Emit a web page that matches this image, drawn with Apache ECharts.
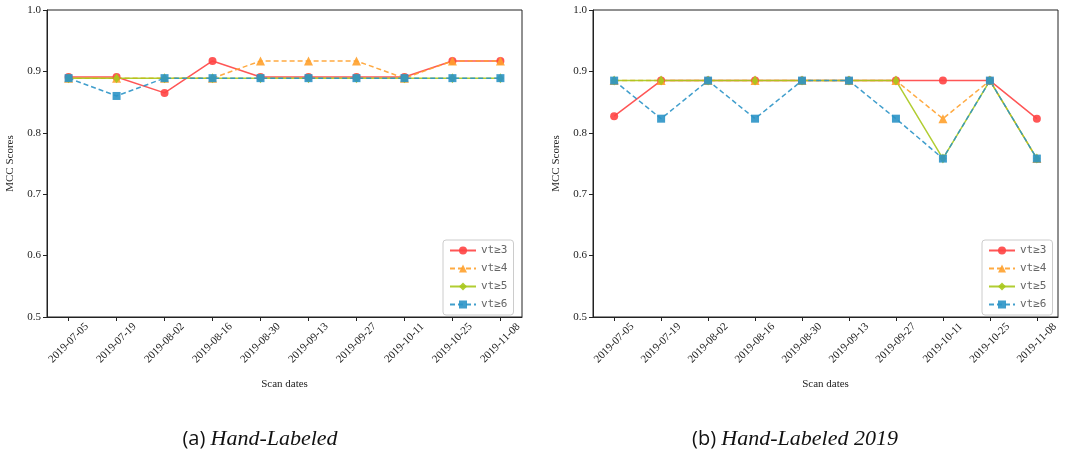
<!DOCTYPE html>
<html>
<head>
<meta charset="utf-8">
<script src="https://cdn.jsdelivr.net/npm/echarts@6/dist/echarts.min.js"></script>
<style>
  html, body { margin: 0; padding: 0; background: #fff; }
  #main { width: 1083px; height: 454px; }
</style>
</head>
<body>
<div id="main"></div>
<script>
// scan dates (x axis)
var dates = ['2019-07-05', '2019-07-19', '2019-08-02', '2019-08-16', '2019-08-30',
             '2019-09-13', '2019-09-27', '2019-10-11', '2019-10-25', '2019-11-08'];
var names = ['vt\u22653', 'vt\u22654', 'vt\u22655', 'vt\u22656'];

// (a) Hand-Labeled
var handVt3 = [0.891, 0.891, 0.865, 0.917, 0.891, 0.891, 0.891, 0.891, 0.917, 0.917];
var handVt4 = [0.889, 0.889, 0.889, 0.889, 0.917, 0.917, 0.917, 0.889, 0.917, 0.917];
var handVt5 = [0.889, 0.889, 0.889, 0.889, 0.889, 0.889, 0.889, 0.889, 0.889, 0.889];
var handVt6 = [0.889, 0.860, 0.889, 0.889, 0.889, 0.889, 0.889, 0.889, 0.889, 0.889];

// (b) Hand-Labeled 2019
var h19Vt3 = [0.827, 0.885, 0.885, 0.885, 0.885, 0.885, 0.885, 0.885, 0.885, 0.823];
var h19Vt4 = [0.885, 0.885, 0.885, 0.885, 0.885, 0.885, 0.885, 0.823, 0.885, 0.758];
var h19Vt5 = [0.885, 0.885, 0.885, 0.885, 0.885, 0.885, 0.885, 0.758, 0.885, 0.758];
var h19Vt6 = [0.885, 0.823, 0.885, 0.823, 0.885, 0.885, 0.823, 0.758, 0.885, 0.758];

var colors = ['#ff4444', '#ffa12e', '#a8c81c', '#2b93c6'];
var symbols = ['circle', 'triangle', 'path://M0,-10 L6,0 L0,10 L-6,0 Z', 'rect'];
var symSizes = [8, 9, [7, 10], 8];
var dashes = ['solid', [5, 3], 'solid', [5, 3]];

var serif = 'Liberation Serif';
var tickIdx = dates.map(function (d, i) { return i; });

function pairs(arr) {
    return arr.map(function (v, i) { return [i, v]; });
}

function makeX(gi) {
    return {
        type: 'value', gridIndex: gi, min: -0.45, max: 9.45,
        name: 'Scan dates', nameLocation: 'middle', nameGap: 62,
        nameTextStyle: { fontFamily: serif, fontSize: 11, color: '#222' },
        axisLine: { show: true, onZero: false, lineStyle: { color: '#222', width: 1 } },
        axisTick: { show: true, length: 4, customValues: tickIdx, lineStyle: { color: '#222' } },
        axisLabel: {
            customValues: tickIdx, rotate: 45, margin: 26,
            align: 'center', verticalAlign: 'middle',
            fontFamily: serif, fontSize: 11, color: '#222',
            formatter: function (v) { return dates[v]; }
        },
        splitLine: { show: false }
    };
}

function makeY(gi) {
    return {
        type: 'value', gridIndex: gi, min: 0.5, max: 1.0, interval: 0.1,
        name: 'MCC Scores', nameLocation: 'middle', nameGap: 31,
        nameTextStyle: { fontFamily: serif, fontSize: 11, color: '#222' },
        axisLine: { show: true, onZero: false, lineStyle: { color: '#222', width: 1 } },
        axisTick: { show: true, length: 4, lineStyle: { color: '#222' } },
        axisLabel: {
            margin: 6, fontFamily: serif, fontSize: 11, color: '#222',
            formatter: function (v) { return v.toFixed(1); }
        },
        splitLine: { show: false }
    };
}

function makeSeries(gi, sets) {
    return sets.map(function (arr, k) {
        return {
            name: names[k], type: 'line', xAxisIndex: gi, yAxisIndex: gi,
            data: pairs(arr),
            symbol: symbols[k], symbolSize: symSizes[k],
            itemStyle: { color: colors[k], opacity: 0.9 },
            lineStyle: { color: colors[k], width: 1.5, type: dashes[k], opacity: 0.9 },
            animation: false
        };
    });
}

function makeLegend(left) {
    return {
        data: names, orient: 'vertical', left: left, top: 240,
        itemWidth: 26, itemHeight: 10, itemGap: 7, padding: [5, 6, 5, 6],
        borderColor: '#ccc', borderWidth: 1, borderRadius: 3,
        backgroundColor: '#fff',
        textStyle: { fontFamily: 'DejaVu Sans Mono', fontSize: 11, color: '#666' },
        selectedMode: false
    };
}

function caption(x, tag, text) {
    return {
        left: x, top: 423, textAlign: 'center',
        text: '{a|' + tag + ' }{b|' + text + '}',
        textStyle: {
            fontWeight: 'normal',
            rich: {
                a: { fontFamily: 'Open Sans', fontWeight: 'normal', fontSize: 20, color: '#111' },
                b: { fontFamily: serif, fontWeight: 'normal', fontStyle: 'italic', fontSize: 22, color: '#111' }
            }
        }
    };
}

var myChart = echarts.init(document.getElementById('main'), null, { renderer: 'canvas' });

var option = {
    backgroundColor: '#fff',
    animation: false,
    title: [caption(255, '(a)', 'Hand-Labeled'), caption(790, '(b)', 'Hand-Labeled 2019')],
    legend: [makeLegend(443), makeLegend(982)],
    grid: [
        { left: 47, top: 10, width: 475, height: 307, show: true, borderColor: '#222', borderWidth: 1 },
        { left: 593, top: 10, width: 465, height: 307, show: true, borderColor: '#222', borderWidth: 1 }
    ],
    xAxis: [makeX(0), makeX(1)],
    yAxis: [makeY(0), makeY(1)],
    series: makeSeries(0, [handVt3, handVt4, handVt5, handVt6])
        .concat(makeSeries(1, [h19Vt3, h19Vt4, h19Vt5, h19Vt6]))
};

myChart.setOption(option);
</script>
</body>
</html>
